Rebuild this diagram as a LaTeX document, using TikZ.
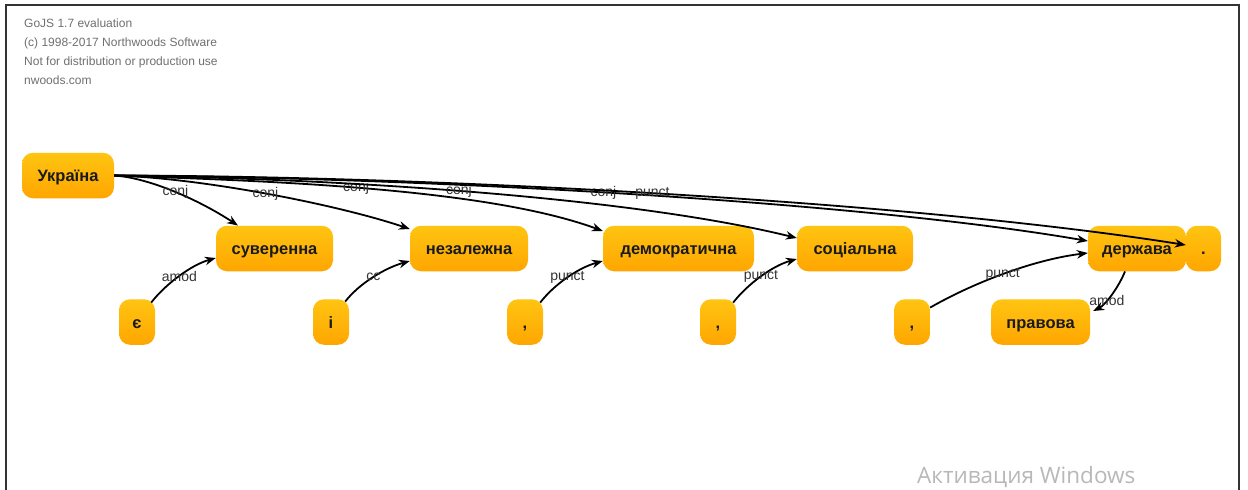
\documentclass[tikz,border=0pt]{standalone}
\usepackage{fontspec}
\setmainfont{Liberation Sans}
\newfontfamily\winfont{Open Sans}
\usetikzlibrary{arrows.meta}
\definecolor{wordtop}{HTML}{FFC412}
\definecolor{wordbot}{HTML}{FFA600}
\definecolor{wordtxt}{HTML}{1A1A1A}
\definecolor{lbltxt}{HTML}{333333}
\definecolor{notetxt}{HTML}{707070}
\definecolor{framecol}{HTML}{333333}
\tikzset{
  word/.style={rounded corners=11pt, top color=wordtop, bottom color=wordbot,
    draw=none, minimum height=45.5pt, inner xsep=2pt, text=wordtxt,
    text height=14pt, text depth=1.4pt,
    font=\fontsize{16.5}{19}\selectfont\bfseries},
  dep/.style={line width=1.8pt, black, -{Stealth[length=11pt,width=8.5pt]}},
  lbl/.style={font=\fontsize{14}{16}\selectfont, text=lbltxt, inner sep=0pt},
  note/.style={font=\fontsize{12}{14}\selectfont, text=notetxt, anchor=base west, inner sep=0pt},
}
\begin{document}
\begin{tikzpicture}[x=1pt,y=-1pt]
\useasboundingbox (0,0) rectangle (1248,490);
\fill[white] (0,0) rectangle (1248,490);
\draw[framecol, line width=1.8pt] (6,520) -- (6,5) -- (1239,5) -- (1239,520);

% evaluation notice
\node[note] (n1) at (24,27.5) {GoJS 1.7 evaluation};
\node[note] (n2) at (24,46.5) {(c) 1998-2017 Northwoods Software};
\node[note] (n3) at (24,65.5) {Not for distribution or production use};
\node[note] (n4) at (24,84.5) {nwoods.com};

% words
\node[word, minimum width=92pt]  (ukr)  at (68,175.5)   {Україна};
\node[word, minimum width=117pt] (suv)  at (274.5,248.5) {суверенна};
\node[word, minimum width=118pt] (nez)  at (469,248.5)  {незалежна};
\node[word, minimum width=151pt] (dem)  at (678.5,248.5) {демократична};
\node[word, minimum width=116pt] (soc)  at (855,248.5)  {соціальна};
\node[word, minimum width=98pt]  (der)  at (1137,248.5) {держава};
\node[word, minimum width=35pt]  (dot)  at (1203.5,248.5) {.};
\node[word, minimum width=36pt]  (ye)   at (137,322)    {є};
\node[word, minimum width=36pt]  (ii)   at (331,322)    {і};
\node[word, minimum width=36pt]  (cma)  at (525,322)    {,};
\node[word, minimum width=36pt]  (cmb)  at (718,322)    {,};
\node[word, minimum width=36pt]  (cmc)  at (912,322)    {,};
\node[word, minimum width=99pt]  (prav) at (1040.5,322) {правова};

% dependencies from the root
\draw[dep] (ukr.east) .. controls +(36,2.5) and +(-38,-25) .. ([xshift=-36.5pt]suv.north)
  node[lbl, pos=0.5] {conj};
\draw[dep] (ukr.east) .. controls +(89,2.5) and +(-71,-24) .. ([yshift=19.5pt]nez.west)
  node[lbl, pos=0.49] {conj};
\draw[dep] (ukr.east) .. controls +(130,5) and +(-122,-45) .. ([yshift=17.5pt]dem.west)
  node[lbl, pos=0.49] {conj};
\draw[dep] (ukr.east) .. controls +(204,2.5) and +(-175,-43) .. ([yshift=10.5pt]soc.west)
  node[lbl, pos=0.49] {conj};
\draw[dep] (ukr.east) .. controls +(286,1.5) and +(-237,-41) .. ([yshift=7.5pt]der.west)
  node[lbl, pos=0.485] {conj};
\draw[dep] (ukr.east) .. controls +(306,0.5) and +(-284,-45) .. ([yshift=3.5pt]dot.west)
  node[lbl, pos=0.495] {punct};

% dependencies from the lower row
\draw[dep] ([xshift=-4pt,yshift=-3.5pt]ye.north east) .. controls +(14,-18) and +(-25,7) .. ([yshift=-9.5pt]suv.west)
  node[lbl, pos=0.5] {amod};
\draw[dep] ([xshift=-4pt,yshift=-2.5pt]ii.north east) .. controls +(14,-18) and +(-25,7) .. ([yshift=-12.5pt]nez.west)
  node[lbl, pos=0.5] {cc};
\draw[dep] ([xshift=-3pt,yshift=-3.5pt]cma.north east) .. controls +(14,-18) and +(-25,7) .. ([yshift=-12.5pt]dem.west)
  node[lbl, pos=0.5] {punct};
\draw[dep] ([xshift=-3pt,yshift=-3.5pt]cmb.north east) .. controls +(14,-18) and +(-25,7) .. ([yshift=-10.5pt]soc.west)
  node[lbl, pos=0.5] {punct};
\draw[dep] ([yshift=-8.5pt]cmc.north east) .. controls +(40,-23) and +(-57,7) .. ([yshift=-4.5pt]der.west)
  node[lbl, pos=0.5] {punct};
\draw[dep] ([xshift=-12pt]der.south) .. controls +(-7,17) and +(12,-6) .. ([xshift=3pt,yshift=11pt]prav.east)
  node[lbl, pos=0.62] {amod};

% system watermark
\node[font=\winfont\fontsize{22.5}{26}\selectfont, text=black!28, anchor=west, inner sep=0pt] (win) at (917,477) {Активация Windows};
\end{tikzpicture}
\end{document}
